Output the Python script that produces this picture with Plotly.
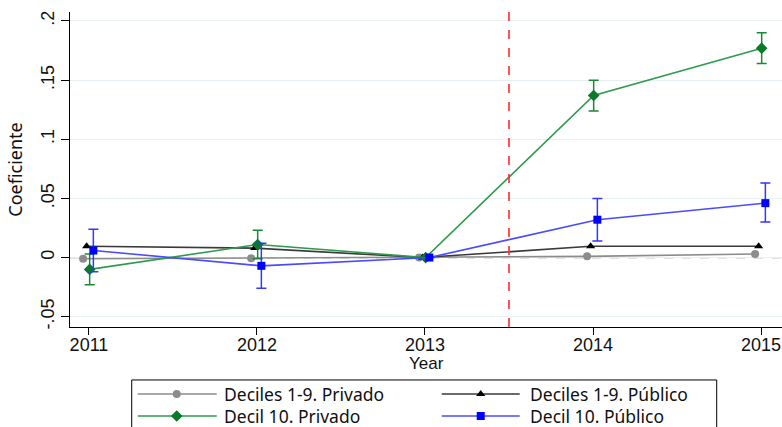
import plotly.graph_objects as go

# Event-study coefficients by year
years = [2011, 2012, 2013, 2014, 2015]

dec19_priv = [-0.001, -0.0005, 0.0, 0.001, 0.003]
dec19_pub = [0.0095, 0.008, 0.0, 0.0095, 0.0095]
dec10_priv = [-0.010, 0.011, 0.0, 0.137, 0.177]
dec10_priv_lo = [-0.023, -0.001, 0.0, 0.124, 0.164]
dec10_priv_hi = [0.003, 0.023, 0.0, 0.150, 0.190]
dec10_pub = [0.006, -0.007, 0.0, 0.032, 0.046]
dec10_pub_lo = [-0.012, -0.026, 0.0, 0.014, 0.030]
dec10_pub_hi = [0.024, 0.012, 0.0, 0.050, 0.063]

y_ticks = [-0.05, 0, 0.05, 0.1, 0.15, 0.2]
y_tick_text = ["-.05", "0", ".05", ".1", ".15", ".2"]
reform_year = 2013.5

names = ["Deciles 1-9. Privado", "Deciles 1-9. Público",
         "Decil 10. Privado", "Decil 10. Público"]

# series styles: (x offset, line colour, marker symbol, marker size, marker colour)
styles = [
    (-0.035, "#8c8c8c", "circle", 8, "#8c8c8c"),
    (-0.014, "#3a3a3a", "triangle-up", 8, "#000000"),
    (0.004, "#2f9a4c", "diamond", 9, "#0a7a2a"),
    (0.026, "#4a4aff", "square", 8, "#0000ff"),
]

LEGEND_FONT = "Noto Sans, Open Sans, sans-serif"


def err(vals, lo, hi, color):
    return dict(type="data", symmetric=False,
                array=[h - v for v, h in zip(vals, hi)],
                arrayminus=[v - l for v, l in zip(vals, lo)],
                thickness=1.5, width=5, color=color)


series = [
    (dec19_priv, None),
    (dec19_pub, None),
    (dec10_priv, err(dec10_priv, dec10_priv_lo, dec10_priv_hi, "#178a33")),
    (dec10_pub, err(dec10_pub, dec10_pub_lo, dec10_pub_hi, "#3535ff")),
]

fig = go.Figure()

for (vals, ebar), name, (dx, lc, sym, ms, mc) in zip(series, names, styles):
    fig.add_trace(go.Scatter(
        x=[yr + dx for yr in years], y=vals, name=name, mode="lines+markers",
        line=dict(color=lc, width=1.6),
        marker=dict(symbol=sym, size=ms, color=mc),
        error_y=ebar, showlegend=False))

# reference lines
fig.add_hline(y=0, line=dict(color="#8c8c8c", width=1.3, dash="dash"), layer="below")
fig.add_vline(x=reform_year, line=dict(color="#ff2a2a", width=1.6, dash="dash"))

# x-axis title placed just under the tick labels
fig.add_annotation(text="Year", xref="paper", yref="paper", x=0.5, y=0.153,
                   xanchor="center", yanchor="middle", showarrow=False,
                   font=dict(size=17))

# legend drawn in its own small pixel-scaled panel (two columns, two rows)
key_cols = [(6, 45, 85, 90), (310, 349, 388, 396)]   # line start, marker, line end, text
key_rows = [33, 11]
for i, (name, (dx, lc, sym, ms, mc)) in enumerate(zip(names, styles)):
    x0, xm, x1, xt = key_cols[i % 2]
    yy = key_rows[i // 2]
    fig.add_trace(go.Scatter(x=[x0, x1], y=[yy, yy], mode="lines",
                             line=dict(color=lc, width=1.6),
                             xaxis="x2", yaxis="y2", showlegend=False,
                             hoverinfo="skip"))
    fig.add_trace(go.Scatter(x=[xm], y=[yy], mode="markers",
                             marker=dict(symbol=sym, size=ms, color=mc),
                             xaxis="x2", yaxis="y2", showlegend=False,
                             hoverinfo="skip"))
    fig.add_annotation(text=name, xref="x2", yref="y2", x=xt, y=yy,
                       xanchor="left", yanchor="middle", showarrow=False,
                       font=dict(family=LEGEND_FONT, size=17.5, color="#111"))

fig.add_shape(type="rect", xref="paper", yref="paper",
              x0=0.0867, x1=0.9083, y0=-0.05, y1=0.1133,
              line=dict(color="#000", width=1), fillcolor="rgba(0,0,0,0)")

fig.update_layout(
    width=782, height=427,
    margin=dict(l=70, r=0, t=12, b=0, autoexpand=False),
    paper_bgcolor="white", plot_bgcolor="white",
    font=dict(family="Liberation Sans, Arial, sans-serif", size=18, color="#111"),
    showlegend=False,
    xaxis=dict(
        domain=[0, 1], anchor="y",
        range=[2010.887, 2015.125], tickvals=years,
        ticks="outside", ticklen=7, tickwidth=1.3, tickcolor="#000",
        showline=True, linecolor="#000", linewidth=1.3,
        showgrid=False, zeroline=False, ticklabelstandoff=-6,
        tickfont=dict(size=18)),
    yaxis=dict(
        domain=[0.241, 1], anchor="x",
        range=[-0.0587, 0.2076], tickvals=y_ticks, ticktext=y_tick_text,
        tickangle=-90,
        ticks="outside", ticklen=8, tickwidth=1.3, tickcolor="#000",
        showline=True, linecolor="#000", linewidth=1.3,
        showgrid=True, gridcolor="#e6eff1", gridwidth=1, zeroline=False,
        tickfont=dict(size=18),
        title=dict(text="Coeficiente", standoff=10,
                   font=dict(family=LEGEND_FONT, size=18))),
    xaxis2=dict(domain=[0.0867, 0.9083], anchor="y2", range=[0, 585],
                visible=False, fixedrange=True),
    yaxis2=dict(domain=[0, 0.1133], anchor="x2", range=[0, 47],
                visible=False, fixedrange=True),
)

fig.write_html("out.html")
